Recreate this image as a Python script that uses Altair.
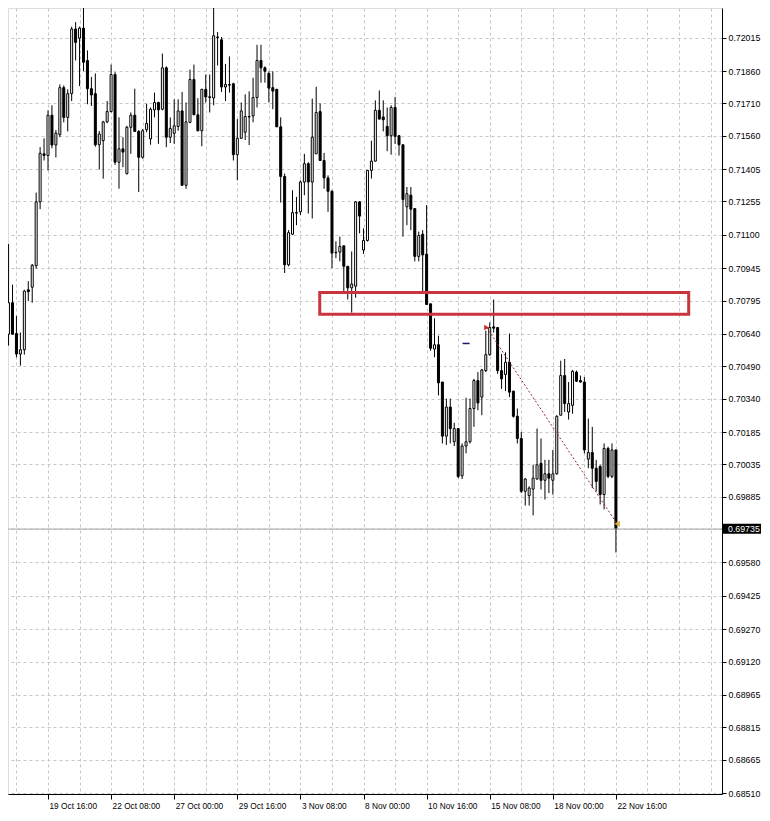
import altair as alt
import pandas as pd

# ---------------- data (H4 candles) ----------------
BAR = list(range(156))

OPEN = [0.70725, 0.70639, 0.70785, 0.70642, 0.70547, 0.70567, 0.70845, 0.70857, 0.70957, 0.71253,
        0.71476, 0.71468, 0.71655, 0.71517, 0.71565, 0.71783, 0.71645, 0.71755, 0.72055, 0.72013,
        0.72059, 0.71909, 0.71778, 0.71755, 0.71518, 0.71537, 0.71624, 0.71672, 0.71844, 0.71437,
        0.71499, 0.71384, 0.71599, 0.71655, 0.71580, 0.71460, 0.71588, 0.71545, 0.71680, 0.71714,
        0.71683, 0.71875, 0.71553, 0.71571, 0.71603, 0.71675, 0.71330, 0.71622, 0.71821, 0.71657,
        0.71583, 0.71775, 0.71737, 0.71735, 0.72018, 0.72005, 0.71786, 0.71797, 0.71801, 0.71472,
        0.71548, 0.71576, 0.71649, 0.71652, 0.71737, 0.71909, 0.71875, 0.71849, 0.71783, 0.71775,
        0.71601, 0.71371, 0.70961, 0.71103, 0.71203, 0.71207, 0.71345, 0.71430, 0.71345, 0.71476,
        0.71672, 0.71445, 0.71364, 0.71302, 0.71019, 0.71020, 0.71049, 0.70954, 0.70854, 0.70862,
        0.71253, 0.71030, 0.71074, 0.71399, 0.71442, 0.71678, 0.71647, 0.71603, 0.71560, 0.71691,
        0.71560, 0.71518, 0.71230, 0.71284, 0.71222, 0.71000, 0.71103, 0.71011, 0.70780, 0.70570,
        0.70590, 0.70417, 0.70166, 0.70301, 0.70140, 0.70201, 0.69982, 0.70120, 0.70140, 0.70294,
        0.70424, 0.70347, 0.70470, 0.70544, 0.70673, 0.70670, 0.70470, 0.70452, 0.70509, 0.70375,
        0.70258, 0.70155, 0.69910, 0.69890, 0.69920, 0.69967, 0.70040, 0.69961, 0.69991, 0.69961,
        0.69991, 0.70263, 0.70447, 0.70278, 0.70309, 0.70463, 0.70424, 0.70417, 0.70059, 0.70090,
        0.70017, 0.70025, 0.69895, 0.70109, 0.69979, 0.70102]

HIGH = [0.70808, 0.71057, 0.70869, 0.70724, 0.70647, 0.70845, 0.70885, 0.70965, 0.71296, 0.71507,
        0.71548, 0.71678, 0.71701, 0.71586, 0.71798, 0.71793, 0.71775, 0.72066, 0.72087, 0.72066,
        0.72195, 0.71956, 0.71833, 0.71849, 0.71582, 0.71629, 0.71721, 0.71890, 0.71855, 0.71645,
        0.71553, 0.71606, 0.71668, 0.71778, 0.71586, 0.71591, 0.71709, 0.71691, 0.71760, 0.71718,
        0.71941, 0.71882, 0.71645, 0.71729, 0.71729, 0.71763, 0.71714, 0.71867, 0.71890, 0.71734,
        0.71778, 0.71844, 0.71844, 0.72166, 0.72041, 0.72018, 0.71893, 0.71928, 0.71806, 0.71637,
        0.71714, 0.71752, 0.71766, 0.71829, 0.71982, 0.71982, 0.71882, 0.71859, 0.71859, 0.71778,
        0.71645, 0.71384, 0.71122, 0.71307, 0.71276, 0.71353, 0.71476, 0.71437, 0.71732, 0.71787,
        0.71710, 0.71480, 0.71376, 0.71307, 0.71070, 0.71092, 0.71051, 0.70954, 0.71023, 0.71256,
        0.71256, 0.71130, 0.71399, 0.71537, 0.71724, 0.71770, 0.71724, 0.71691, 0.71701, 0.71740,
        0.71563, 0.71518, 0.71322, 0.71322, 0.71222, 0.71115, 0.71122, 0.71238, 0.70780, 0.70713,
        0.70632, 0.70417, 0.70340, 0.70340, 0.70228, 0.70201, 0.70132, 0.70344, 0.70340, 0.70432,
        0.70463, 0.70478, 0.70655, 0.70693, 0.70800, 0.70670, 0.70547, 0.70555, 0.70642, 0.70375,
        0.70294, 0.70186, 0.69971, 0.69933, 0.70033, 0.70201, 0.70155, 0.70056, 0.70056, 0.70102,
        0.70263, 0.70516, 0.70524, 0.70417, 0.70473, 0.70470, 0.70447, 0.70440, 0.70247, 0.70209,
        0.70056, 0.70033, 0.70132, 0.70117, 0.70132, 0.70102]

LOW = [0.70633, 0.70586, 0.70638, 0.70532, 0.70493, 0.70544, 0.70793, 0.70785, 0.70943, 0.71219,
       0.71445, 0.71399, 0.71502, 0.71459, 0.71553, 0.71622, 0.71580, 0.71721, 0.71909, 0.71790,
       0.71859, 0.71706, 0.71698, 0.71509, 0.71403, 0.71361, 0.71618, 0.71668, 0.71425, 0.71314,
       0.71414, 0.71380, 0.71476, 0.71580, 0.71299, 0.71453, 0.71576, 0.71518, 0.71645, 0.71522,
       0.71678, 0.71507, 0.71526, 0.71522, 0.71583, 0.71327, 0.71314, 0.71618, 0.71657, 0.71580,
       0.71511, 0.71714, 0.71668, 0.71701, 0.71886, 0.71763, 0.71721, 0.71760, 0.71445, 0.71353,
       0.71545, 0.71540, 0.71517, 0.71622, 0.71691, 0.71806, 0.71806, 0.71714, 0.71683, 0.71601,
       0.71250, 0.70923, 0.70954, 0.71099, 0.71145, 0.71192, 0.71284, 0.71199, 0.71176, 0.71476,
       0.71445, 0.71314, 0.71207, 0.70946, 0.70992, 0.70977, 0.70839, 0.70800, 0.70739, 0.70808,
       0.71107, 0.71011, 0.71069, 0.71361, 0.71440, 0.71637, 0.71580, 0.71488, 0.71472, 0.71522,
       0.71468, 0.71092, 0.71145, 0.71122, 0.70977, 0.70977, 0.70839, 0.70777, 0.70562, 0.70532,
       0.70355, 0.70132, 0.70125, 0.70132, 0.70120, 0.69971, 0.69967, 0.70086, 0.70132, 0.70209,
       0.70286, 0.70263, 0.70463, 0.70539, 0.70647, 0.70455, 0.70385, 0.70375, 0.70347, 0.70252,
       0.70132, 0.69902, 0.69844, 0.69844, 0.69798, 0.69964, 0.69918, 0.69872, 0.69902, 0.69895,
       0.69987, 0.70263, 0.70278, 0.70243, 0.70270, 0.70417, 0.70414, 0.70086, 0.70017, 0.69925,
       0.69910, 0.69849, 0.69826, 0.69971, 0.69971, 0.69626]

CLOSE = [0.70707, 0.70785, 0.70639, 0.70547, 0.70567, 0.70839, 0.70836, 0.70959, 0.71253, 0.71479,
         0.71468, 0.71655, 0.71517, 0.71572, 0.71783, 0.71645, 0.71755, 0.72055, 0.71993, 0.72059,
         0.71901, 0.71778, 0.71749, 0.71518, 0.71568, 0.71624, 0.71672, 0.71844, 0.71437, 0.71499,
         0.71484, 0.71599, 0.71655, 0.71580, 0.71460, 0.71583, 0.71617, 0.71683, 0.71714, 0.71680,
         0.71875, 0.71553, 0.71594, 0.71606, 0.71675, 0.71330, 0.71624, 0.71821, 0.71657, 0.71583,
         0.71775, 0.71740, 0.71741, 0.72024, 0.72016, 0.71786, 0.71798, 0.71795, 0.71472, 0.71548,
         0.71675, 0.71649, 0.71647, 0.71737, 0.71909, 0.71875, 0.71859, 0.71781, 0.71767, 0.71601,
         0.71371, 0.70961, 0.71110, 0.71203, 0.71201, 0.71345, 0.71430, 0.71345, 0.71553, 0.71668,
         0.71445, 0.71364, 0.71302, 0.71015, 0.71017, 0.71046, 0.70954, 0.70854, 0.70872, 0.71253,
         0.71187, 0.71074, 0.71399, 0.71442, 0.71678, 0.71637, 0.71634, 0.71560, 0.71691, 0.71557,
         0.71518, 0.71264, 0.71291, 0.71219, 0.71000, 0.71097, 0.71007, 0.70777, 0.70574, 0.70590,
         0.70413, 0.70166, 0.70301, 0.70201, 0.70201, 0.69979, 0.70120, 0.70140, 0.70294, 0.70424,
         0.70320, 0.70473, 0.70544, 0.70670, 0.70667, 0.70470, 0.70432, 0.70509, 0.70370, 0.70258,
         0.70155, 0.69910, 0.69967, 0.69925, 0.69971, 0.70033, 0.69961, 0.69991, 0.69971, 0.69991,
         0.70258, 0.70447, 0.70317, 0.70317, 0.70467, 0.70421, 0.70417, 0.70102, 0.70090, 0.70017,
         0.69956, 0.69895, 0.70109, 0.69979, 0.70102, 0.69735]

TIME_LABEL_BARS = [11, 27, 43, 59, 75, 91, 107, 123, 139, 155]
TIME_LABELS = ["19 Oct 16:00", "22 Oct 08:00", "27 Oct 00:00", "29 Oct 16:00", "3 Nov 08:00",
               "8 Nov 00:00", "10 Nov 16:00", "15 Nov 08:00", "18 Nov 00:00", "22 Nov 16:00"]
GRID_BARS = [3 + 8 * k for k in range(23)]

PRICE_TICKS = [0.72165, 0.72015, 0.71860, 0.71710, 0.71560, 0.71405, 0.71255, 0.71100,
               0.70945, 0.70795, 0.70640, 0.70490, 0.70340, 0.70185, 0.70035, 0.69885,
               0.69735, 0.69580, 0.69425, 0.69270, 0.69120, 0.68965, 0.68815, 0.68665, 0.68510]
LAST_PRICE = [0.69735]

ZONE_BARS = [79.9, 173.45]
ZONE_PRICES = [0.70833, 0.70732]
TREND_BARS = [122.2, 155.3]
TREND_PRICES = [0.70670, 0.69759]
ORDER_BARS = [116.1, 117.9]
ORDER_PRICE = [0.70596]

# ---------------- tables ----------------
candles = pd.DataFrame({"bar": BAR, "open": OPEN, "high": HIGH, "low": LOW, "close": CLOSE})
candles["body_lo"] = candles[["open", "close"]].min(axis=1)
candles["body_hi"] = candles[["open", "close"]].max(axis=1)

zone = pd.DataFrame({"b0": [ZONE_BARS[0]], "b1": [ZONE_BARS[1]],
                     "p0": [ZONE_PRICES[0]], "p1": [ZONE_PRICES[1]]})
trend = pd.DataFrame({"bar": TREND_BARS, "price": TREND_PRICES})
trend_start = trend.iloc[[0]]
trend_end = trend.iloc[[1]]
order = pd.DataFrame({"b0": [ORDER_BARS[0]], "b1": [ORDER_BARS[1]], "price": ORDER_PRICE})
last = pd.DataFrame({"price": LAST_PRICE})

# ---------------- scales / axes ----------------
FONT = "Liberation Sans"
PLOT_W, PLOT_H = 714, 786
x_scale = alt.Scale(domain=[2.125, 180.625], nice=False, zero=False)
y_scale = alt.Scale(domain=[0.685054, 0.721526], nice=False, zero=False)

label_expr = "''"
for b, t in reversed(list(zip(TIME_LABEL_BARS, TIME_LABELS))):
    label_expr = f"datum.value == {b} ? '{t}' : ({label_expr})"
tick_test = "indexof([" + ",".join(str(b) for b in TIME_LABEL_BARS) + "], datum.value) >= 0"

x_axis = alt.Axis(values=GRID_BARS, labelExpr=label_expr, title=None, orient="bottom",
                  grid=True, gridDash=[3, 3], gridColor="#c6c6c6", gridWidth=1,
                  domainColor="black", domainWidth=1, tickColor="black", tickSize=5,
                  tickOpacity={"condition": {"test": tick_test, "value": 1}, "value": 0},
                  labelAlign="left", labelBaseline="top", labelPadding=2, labelOffset=1,
                  labelFont=FONT, labelFontSize=8.3, labelColor="black",
                  labelOverlap=False, labelBound=False, labelFlush=False)
y_axis = alt.Axis(values=PRICE_TICKS, format=".5f", title=None, orient="right",
                  grid=True, gridDash=[3, 3], gridColor="#c6c6c6", gridWidth=1,
                  domainColor="black", domainWidth=1, tickColor="black", tickSize=4,
                  labelPadding=2, labelFont=FONT, labelFontSize=8.8, labelColor="black",
                  labelBaseline="middle", labelOverlap=False, labelBound=False, labelFlush=False)


def X(f):
    return alt.X(f, type="quantitative", scale=x_scale, axis=x_axis)


def Y(f):
    return alt.Y(f, type="quantitative", scale=y_scale, axis=y_axis)


# ---------------- layers ----------------
wicks = alt.Chart(candles).mark_rule(color="black", strokeWidth=1, clip=True).encode(
    x=X("bar"), y=Y("low"), y2=alt.Y2("high"))

bodies = alt.Chart(candles).mark_bar(width=2, stroke="black", strokeWidth=1, clip=True).encode(
    x=X("bar"), y=Y("body_lo"), y2=alt.Y2("body_hi"),
    fill=alt.condition("datum.close >= datum.open", alt.value("white"), alt.value("black")))

bid_line = alt.Chart(last).mark_rule(color="#a8a8a8", strokeWidth=1).encode(y=Y("price"))

zone_box = alt.Chart(zone).mark_rect(fill="white", fillOpacity=0, stroke="#c9343f",
                                     strokeWidth=3).encode(
    x=X("b0"), x2=alt.X2("b1"), y=Y("p0"), y2=alt.Y2("p1"))

trend_line = alt.Chart(trend).mark_line(color="#9b2a2a", strokeWidth=1, strokeDash=[2, 2]).encode(
    x=X("bar"), y=Y("price"))

start_mark = alt.Chart(trend_start).mark_point(shape="triangle-right", filled=True,
                                               color="#d8262a", size=30, opacity=1).encode(
    x=X("bar"), y=Y("price"))

end_mark = alt.Chart(trend_end).mark_point(shape="triangle-left", filled=True,
                                           color="#d9b04a", size=40, opacity=1).encode(
    x=X("bar"), y=Y("price"))

order_dash = alt.Chart(order).mark_rule(color="#1c1c70", strokeWidth=1.5).encode(
    x=X("b0"), x2=alt.X2("b1"), y=Y("price"))

price_box = alt.Chart(last).transform_calculate(
    hi_box="datum.price + 0.00024", lo_box="datum.price - 0.00022"
).mark_rect(color="black").encode(
    x=alt.value(PLOT_W + 1), x2=alt.value(PLOT_W + 39), y=Y("lo_box:Q"), y2=alt.Y2("hi_box:Q"))

price_text = alt.Chart(last).mark_text(align="left", baseline="middle", color="white",
                                       font=FONT, fontSize=8.8).encode(
    x=alt.value(PLOT_W + 6), y=Y("price"), text=alt.Text("price:Q", format=".5f"))

chart = alt.layer(
    wicks, bodies, bid_line, zone_box, trend_line, start_mark, end_mark, order_dash,
    price_box, price_text
).properties(
    width=PLOT_W, height=PLOT_H,
    autosize=alt.AutoSizeParams(type="none"),
    padding={"left": 0, "top": 0, "right": 39, "bottom": 18},
).configure_view(strokeWidth=0).configure(background="white")

chart.save("out.html", embed_options={"renderer": "svg", "actions": False})
